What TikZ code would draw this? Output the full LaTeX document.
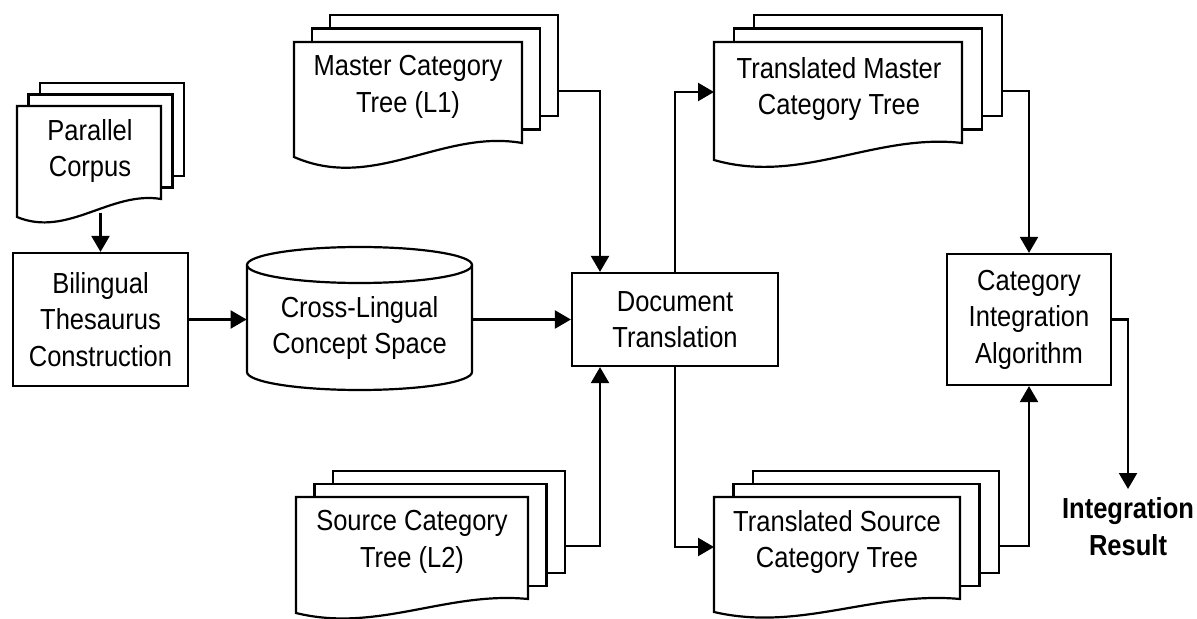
\documentclass[tikz,border=0pt]{standalone}
\usepackage{fontspec}
\setmainfont{Liberation Sans}[FakeStretch=0.88]
\usetikzlibrary{arrows.meta}

\newcommand\mainfs{\fontsize{14.5}{18.3}\selectfont}

\tikzset{
  ln/.style={line width=1.1pt, line join=miter},
  page/.style={ln, fill=white, draw=black},
  boxnode/.style={ln, draw, rectangle, inner sep=0pt, align=center, font=\mainfs},
  lbl/.style={inner sep=0pt, align=center, font=\mainfs},
  arr/.style={ln, -{Triangle[length=8pt,width=9pt]}},
}

% Stack of three document pages.
% #1 name, #2 left x, #3 top y, #4 width, #5 front bottom-right y,
% #6 front bottom-left y, #7 page shift x, #8 page shift y, #9 wave depth
\newcommand\pagestack[9]{%
  \filldraw[page] ({#2+2*#7},{#3-2*#8}) rectangle ({#2+#4+2*#7},{#5-2*#8});
  \filldraw[page] ({#2+#7},{#3-#8}) rectangle ({#2+#4+#7},{#5-#8});
  \filldraw[page] (#2,#3) -- ({#2+#4},#3) -- ({#2+#4},#5)
    .. controls ({#2+0.65*#4},{#5-0.4*#9}) and ({#2+0.35*#4},{#6+#9}) .. (#2,#6) -- cycle;
  \coordinate (#1-in) at (#2,{#3+50});
  \coordinate (#1-out) at ({#2+#4+2*#7},{#3+49});
}

\begin{document}
\begin{tikzpicture}[x=0.5pt,y=-0.5pt]
\fill[white] (0,0) rectangle (1197,619);
\useasboundingbox (0,0) rectangle (1197,619);

% document stacks
\pagestack{pcs}{17}{106}{144}{199}{217}{11.5}{11.5}{21}
\pagestack{mcs}{294}{42}{228}{143}{157}{18}{13.5}{35}
\pagestack{tms}{714}{42}{248}{143}{160}{20}{13.5}{25}
\pagestack{scs}{296}{497}{232}{599}{613}{18.5}{13}{20}
\pagestack{tss}{714}{497}{246}{599}{612}{19.5}{13}{20}

\node[lbl] (pc)   at (90,151)  {Parallel\\Corpus};
\node[lbl] (mct)  at (408,87)  {Master Category\\Tree (L1)};
\node[lbl] (tmct) at (839,89)  {Translated Master\\Category Tree};
\node[lbl] (sct)  at (412,542) {Source Category\\Tree (L2)};
\node[lbl] (tsct) at (837,542) {Translated Source\\Category Tree};

% concept space database
\draw[ln] (247,265) -- (247,372)
  arc[start angle=180, end angle=360, x radius=56.25pt, y radius=9pt] -- (472,265);
\draw[ln] (359.5,265) ellipse [x radius=56.25pt, y radius=9pt];
\node[lbl, minimum width=112.5pt] (cls) at (359.5,328) {Cross-Lingual\\Concept Space};

% process boxes
\node[boxnode, minimum width=87.5pt, minimum height=66.5pt] (bil) at (100.5,319.5)
  {Bilingual\\Thesaurus\\Construction};
\node[boxnode, minimum width=103pt, minimum height=46.5pt] (doc) at (675,319.5)
  {Document\\Translation};
\node[boxnode, minimum width=82pt, minimum height=65.5pt] (cia) at (1029,319.5)
  {Category\\Integration\\Algorithm};
\node[lbl, font=\mainfs\bfseries, anchor=north, inner sep=4pt] (res) at (1128,489)
  {Integration\\Result};

% connectors
\coordinate (pcs-bot) at (100.5,213);
\draw[arr] (pcs-bot) -- (bil.north);
\draw[arr] (bil.east) -- (bil.east -| cls.west);
\draw[arr] (cls.east |- doc.west) -- (doc.west);
\draw[arr] (mcs-out) -| ([xshift=-37.5pt]doc.north);
\draw[arr] (scs-out) -| ([xshift=-37.5pt]doc.south);
\draw[arr] (doc.north) |- (tms-in);
\draw[arr] (doc.south) |- (tss-in);
\draw[arr] (tms-out) -| (cia.north);
\draw[arr] (tss-out) -| (cia.south);
\draw[arr] (cia.east) -| (res.north);
\end{tikzpicture}
\end{document}
